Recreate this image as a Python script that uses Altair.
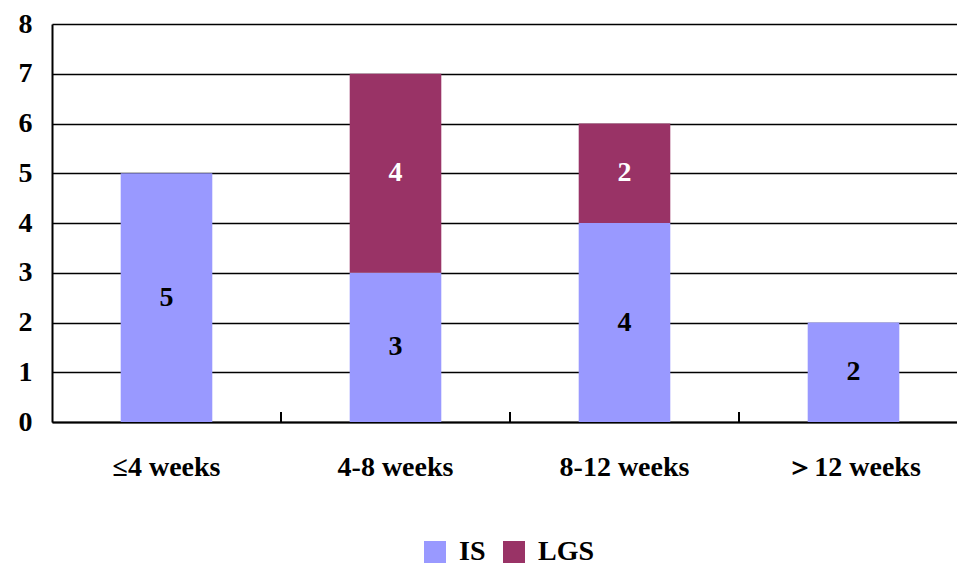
import altair as alt
import pandas as pd

categories = ["≤4 weeks", "4-8 weeks", "8-12 weeks", "＞12 weeks"]
is_values = [5, 3, 4, 2]
lgs_values = [0, 4, 2, 0]
series = ["IS", "LGS"]
colors = ["#9999FF", "#993366"]
label_colors = ["black", "white"]

rows = []
for c, a, b in zip(categories, is_values, lgs_values):
    if a:
        rows.append({"cat": c, "series": "IS", "value": a})
    if b:
        rows.append({"cat": c, "series": "LGS", "value": b})
df = pd.DataFrame(rows)
ticks_df = pd.DataFrame({"cat": categories[1:]})

FONT = "Liberation Serif"
W, H = 905, 398
XRANGE = [0, 916]

xscale = alt.Scale(domain=categories, paddingInner=0.6, paddingOuter=0.3, range=XRANGE)
tickscale = alt.Scale(domain=categories, paddingInner=0, paddingOuter=0, range=XRANGE)
yscale = alt.Scale(domain=[0, 8])

bars = alt.Chart(df).mark_bar().encode(
    x=alt.X("cat:N", scale=xscale, sort=categories,
            axis=alt.Axis(title=None, labelAngle=0, tickSize=0, labelPadding=31,
                          labelFontSize=28, labelFont=FONT, labelFontWeight="bold",
                          labelColor="black", domainColor="black", domainWidth=2)),
    y=alt.Y("value:Q", stack="zero", scale=yscale,
            axis=alt.Axis(title=None, values=list(range(9)), tickSize=0, labelPadding=20,
                          labelFontSize=28, labelFont=FONT, labelFontWeight="bold",
                          labelColor="black", domainColor="black", domainWidth=2,
                          grid=True, gridColor="black", gridWidth=1.6, gridOpacity=1)),
    color=alt.Color("series:N", scale=alt.Scale(domain=series, range=colors),
                    legend=alt.Legend(title=None, orient="none", direction="horizontal",
                                      legendX=369, legendY=514, symbolType="square",
                                      symbolSize=484, symbolStrokeWidth=0, symbolOpacity=1,
                                      labelFontSize=28, labelFont=FONT, labelFontWeight="bold",
                                      labelColor="black", labelOffset=10, columnPadding=14,
                                      padding=0)),
    order=alt.Order("series:N"),
)

labels = alt.Chart(df).transform_stack(
    stack="value", groupby=["cat"], as_=["v0", "v1"], sort=[alt.SortField("series")]
).transform_calculate(
    mid="(datum.v0 + datum.v1) / 2"
).mark_text(fontSize=28, font=FONT, fontWeight="bold", baseline="middle").encode(
    x=alt.X("cat:N", scale=xscale, sort=categories),
    y=alt.Y("mid:Q", scale=yscale),
    text=alt.Text("value:Q"),
    color=alt.Color("series:N", scale=alt.Scale(domain=series, range=label_colors), legend=None),
)

ticks = alt.Chart(ticks_df).mark_rule(color="black", strokeWidth=2).encode(
    x=alt.X("cat:N", scale=tickscale, sort=categories, bandPosition=0, axis=None),
    y=alt.value(H - 10),
    y2=alt.value(H),
)

main = alt.layer(bars, labels).resolve_scale(color="independent")

chart = alt.layer(main, ticks).resolve_scale(x="independent").properties(
    width=W, height=H,
    autosize=alt.AutoSizeParams(type="none"),
    padding={"left": 52, "top": 24, "right": 0, "bottom": 144},
    background="white",
).configure(font=FONT).configure_view(stroke=None)

chart.save("out.html", embed_options={"renderer": "svg", "actions": False})
